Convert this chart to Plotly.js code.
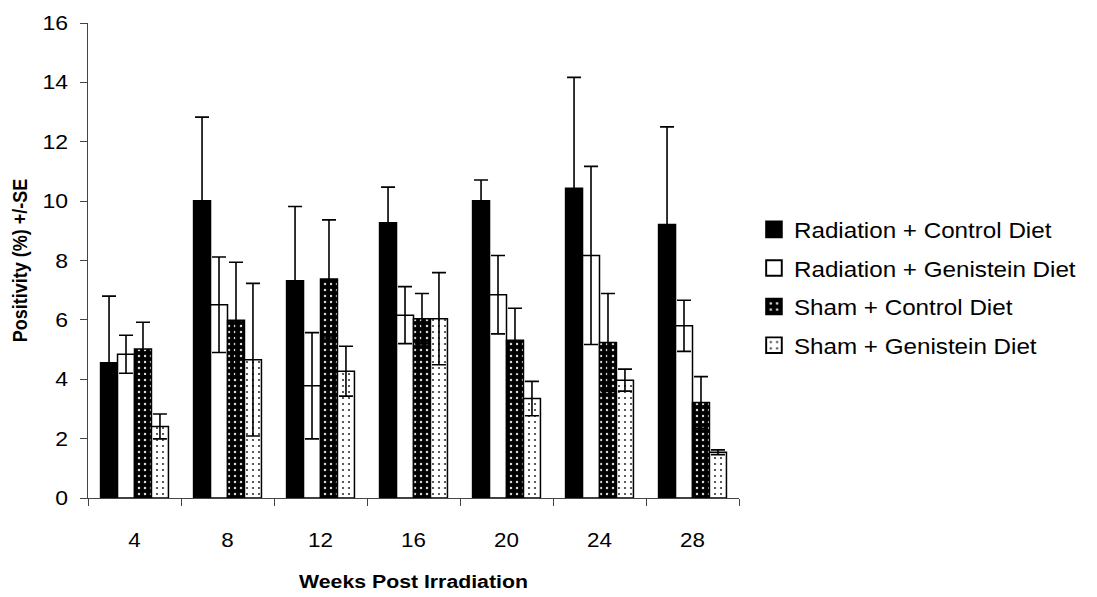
<!DOCTYPE html>
<html>
<head>
<meta charset="utf-8">
<script src="https://cdn.plot.ly/plotly-3.0.1.min.js"></script>
<style>
html,body{margin:0;padding:0;background:#fff;}
#chart{width:1097px;height:597px;}
/* the reference chart's text is slightly stretched horizontally */
#chart g.xtick, #chart g.g-xtitle {transform-box: fill-box; transform-origin: center; transform: scaleX(1.12);}
#chart g.ytick {transform-box: fill-box; transform-origin: right center; transform: scaleX(1.15);}
#chart g.g-ytitle {transform-box: fill-box; transform-origin: center; transform: scaleX(1.12);}
#chart text.legendtext {transform-box: fill-box; transform-origin: left center; transform: scaleX(1.1);}
#chart g.legendpoints {transform-box: fill-box; transform-origin: center; transform: scale(1.3);}
#chart g.legend g.scrollbox, #chart g.legend {clip-path: none !important;}
</style>
</head>
<body>
<div id="chart"></div>
<script>
const weeks = ['4', '8', '12', '16', '20', '24', '28'];
const seriesNames = ['Radiation + Control Diet', 'Radiation + Genistein Diet', 'Sham + Control Diet', 'Sham + Genistein Diet'];
const radControl = [4.56, 10.01, 7.32, 9.27, 10.01, 10.43, 9.21];
const radControlSE = [2.24, 2.82, 2.50, 1.20, 0.70, 3.74, 3.29];
const radGenistein = [4.84, 6.51, 3.78, 6.16, 6.85, 8.17, 5.80];
const radGenisteinSE = [0.64, 1.61, 1.79, 0.96, 1.32, 3.00, 0.86];
const shamControl = [5.02, 5.99, 7.38, 6.04, 5.31, 5.24, 3.22];
const shamControlSE = [0.90, 1.95, 1.99, 0.85, 1.08, 1.65, 0.87];
const shamGenistein = [2.41, 4.66, 4.27, 6.04, 3.35, 3.97, 1.54];
const shamGenisteinSE = [0.42, 2.57, 0.84, 1.55, 0.58, 0.37, 0.08];

const FONT = 'Liberation Sans, Arial, sans-serif';
const line = {color: '#000', width: 1.5};
function err(se) {
  return {type: 'data', array: se, symmetric: true, color: '#000', thickness: 1.6, width: 7};
}
const traces = [
  {name: seriesNames[0], legendgroup: 'a', x: weeks, y: radControl, error_y: err(radControlSE),
   marker: {color: '#000', line: line}},
  {name: seriesNames[1], legendgroup: 'b', x: weeks, y: radGenistein, error_y: err(radGenisteinSE),
   marker: {color: '#fff', line: line}},
  {name: seriesNames[2], legendgroup: 'c', x: weeks, y: shamControl, error_y: err(shamControlSE),
   marker: {color: '#000', line: line,
     pattern: {shape: '.', bgcolor: '#000', fgcolor: '#d8d8d8', size: 6, solidity: 0.14, fillmode: 'replace'}}},
  {name: seriesNames[3], legendgroup: 'd', x: weeks, y: shamGenistein, error_y: err(shamGenisteinSE),
   marker: {color: '#fff', line: line,
     pattern: {shape: '.', bgcolor: '#fff', fgcolor: '#333', size: 6, solidity: 0.1, fillmode: 'replace'}}}
].map(t => Object.assign({type: 'bar', hoverinfo: 'skip'}, t));

const layout = {
  width: 1097, height: 597,
  paper_bgcolor: '#fff', plot_bgcolor: '#fff',
  margin: {l: 88, r: 358, t: 23, b: 99},
  barmode: 'group', bargap: 0.27, bargroupgap: 0,
  font: {family: FONT, color: '#000', size: 20},
  showlegend: true,
  legend: {x: 1.023, xanchor: 'left', y: 0.443, yanchor: 'middle',
    font: {family: FONT, size: 22, color: '#000'}, tracegroupgap: 7, traceorder: 'grouped',
    bgcolor: 'rgba(0,0,0,0)'},
  xaxis: {type: 'category', showline: true, linecolor: '#444', linewidth: 1,
    ticks: 'outside', tickson: 'boundaries', ticklen: 7, tickcolor: '#444', tickwidth: 1,
    ticklabelstandoff: 24,
    tickfont: {family: FONT, size: 20, color: '#000'},
    showgrid: false, zeroline: false,
    title: {text: 'Weeks Post Irradiation', font: {family: FONT, size: 19, color: '#000', weight: 'bold'}, standoff: 24}},
  yaxis: {range: [0, 16], dtick: 2, showline: true, linecolor: '#444', linewidth: 1,
    ticks: 'outside', ticklen: 7, tickcolor: '#444', tickwidth: 1,
    ticklabelstandoff: 8,
    tickfont: {family: FONT, size: 20, color: '#000'},
    showgrid: false, zeroline: false,
    title: {text: 'Positivity (%) +/-SE', font: {family: FONT, size: 18, color: '#000', weight: 'bold'}, standoff: 14}}
};

Plotly.newPlot('chart', traces, layout, {displayModeBar: false, staticPlot: true});
</script>
</body>
</html>
